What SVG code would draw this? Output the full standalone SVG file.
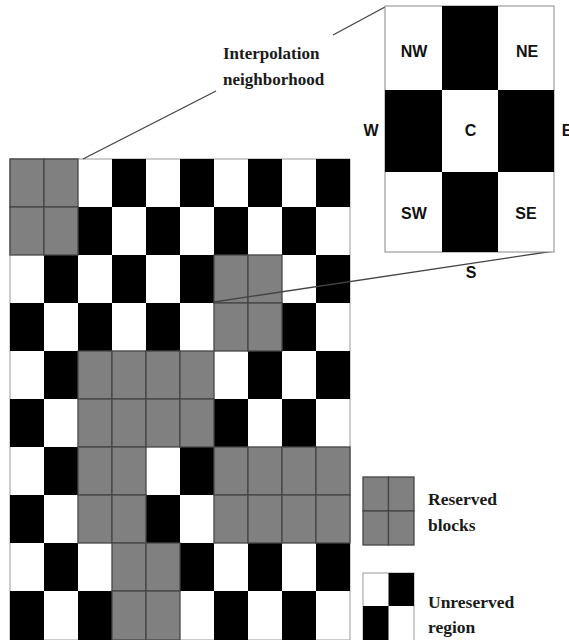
<svg xmlns="http://www.w3.org/2000/svg" width="569" height="640" viewBox="0 0 569 640">
<style>
.b{fill:#000}
.w{fill:#fff}
.g{fill:#808080;stroke:#464646;stroke-width:1.3}
.conn{stroke:#444;stroke-width:1.3;fill:none}
.lbl{font-family:"Liberation Sans",Arial,sans-serif;font-weight:bold;font-size:16px;fill:#111;text-anchor:middle}
.ser{font-family:"Liberation Serif","Times New Roman",serif;font-weight:bold;fill:#1a1a1a}
</style>
<rect width="569" height="640" fill="#fff"/>
<g id="grid">
<rect x="10" y="159" width="340" height="481" fill="#fff" stroke="#999" stroke-width="1"/>
<!-- row 0 -->
<rect class="b" x="112" y="159" width="34" height="48"/><rect class="b" x="180" y="159" width="34" height="48"/><rect class="b" x="248" y="159" width="34" height="48"/><rect class="b" x="316" y="159" width="34" height="48"/>
<!-- row 1 -->
<rect class="b" x="78" y="207" width="34" height="48"/><rect class="b" x="146" y="207" width="34" height="48"/><rect class="b" x="214" y="207" width="34" height="48"/><rect class="b" x="282" y="207" width="34" height="48"/>
<!-- row 2 -->
<rect class="b" x="44" y="255" width="34" height="48"/><rect class="b" x="112" y="255" width="34" height="48"/><rect class="b" x="180" y="255" width="34" height="48"/><rect class="b" x="316" y="255" width="34" height="48"/>
<!-- row 3 -->
<rect class="b" x="10" y="303" width="34" height="48"/><rect class="b" x="78" y="303" width="34" height="48"/><rect class="b" x="146" y="303" width="34" height="48"/><rect class="b" x="282" y="303" width="34" height="48"/>
<!-- row 4 -->
<rect class="b" x="44" y="351" width="34" height="48"/><rect class="b" x="248" y="351" width="34" height="48"/><rect class="b" x="316" y="351" width="34" height="48"/>
<!-- row 5 -->
<rect class="b" x="10" y="399" width="34" height="48"/><rect class="b" x="214" y="399" width="34" height="48"/><rect class="b" x="282" y="399" width="34" height="48"/>
<!-- row 6 -->
<rect class="b" x="44" y="447" width="34" height="48"/><rect class="b" x="180" y="447" width="34" height="48"/>
<!-- row 7 -->
<rect class="b" x="10" y="495" width="34" height="48"/><rect class="b" x="146" y="495" width="34" height="48"/>
<!-- row 8 -->
<rect class="b" x="44" y="543" width="34" height="48"/><rect class="b" x="180" y="543" width="34" height="48"/><rect class="b" x="248" y="543" width="34" height="48"/><rect class="b" x="316" y="543" width="34" height="48"/>
<!-- row 9 -->
<rect class="b" x="10" y="591" width="34" height="49"/><rect class="b" x="78" y="591" width="34" height="49"/><rect class="b" x="214" y="591" width="34" height="49"/><rect class="b" x="282" y="591" width="34" height="49"/>
</g>
<g id="reserved-blocks">
<rect class="g" x="10" y="159" width="34" height="48"/><rect class="g" x="44" y="159" width="34" height="48"/>
<rect class="g" x="10" y="207" width="34" height="48"/><rect class="g" x="44" y="207" width="34" height="48"/>
<rect class="g" x="214" y="255" width="34" height="48"/><rect class="g" x="248" y="255" width="34" height="48"/>
<rect class="g" x="214" y="303" width="34" height="48"/><rect class="g" x="248" y="303" width="34" height="48"/>
<rect class="g" x="78" y="351" width="34" height="48"/><rect class="g" x="112" y="351" width="34" height="48"/><rect class="g" x="146" y="351" width="34" height="48"/><rect class="g" x="180" y="351" width="34" height="48"/>
<rect class="g" x="78" y="399" width="34" height="48"/><rect class="g" x="112" y="399" width="34" height="48"/><rect class="g" x="146" y="399" width="34" height="48"/><rect class="g" x="180" y="399" width="34" height="48"/>
<rect class="g" x="78" y="447" width="34" height="48"/><rect class="g" x="112" y="447" width="34" height="48"/><rect class="g" x="214" y="447" width="34" height="48"/><rect class="g" x="248" y="447" width="34" height="48"/><rect class="g" x="282" y="447" width="34" height="48"/><rect class="g" x="316" y="447" width="34" height="48"/>
<rect class="g" x="78" y="495" width="34" height="48"/><rect class="g" x="112" y="495" width="34" height="48"/><rect class="g" x="214" y="495" width="34" height="48"/><rect class="g" x="248" y="495" width="34" height="48"/><rect class="g" x="282" y="495" width="34" height="48"/><rect class="g" x="316" y="495" width="34" height="48"/>
<rect class="g" x="112" y="543" width="34" height="48"/><rect class="g" x="146" y="543" width="34" height="48"/>
<rect class="g" x="112" y="591" width="34" height="49"/><rect class="g" x="146" y="591" width="34" height="49"/>
</g>
<g id="connectors">
<line class="conn" x1="83" y1="159" x2="216" y2="91"/>
<line class="conn" x1="333" y1="35" x2="385" y2="7"/>
<line class="conn" x1="214" y1="302" x2="554" y2="251"/>
</g>
<g id="interpolation-label">
<text class="ser" font-size="17" x="223" y="59">Interpolation</text>
<text class="ser" font-size="17" x="223" y="85">neighborhood</text>
</g>
<g id="inset">
<rect x="385" y="6" width="169" height="246" fill="#fff" stroke="#888" stroke-width="1"/>
<rect class="b" x="442" y="6" width="56" height="84"/>
<rect class="b" x="385" y="90" width="57" height="82"/>
<rect class="b" x="498" y="90" width="56" height="82"/>
<rect class="b" x="442" y="172" width="56" height="80"/>
<text class="lbl" x="414" y="57">NW</text>
<text class="lbl" x="527" y="57">NE</text>
<text class="lbl" x="470.5" y="136">C</text>
<text class="lbl" x="414" y="219">SW</text>
<text class="lbl" x="526" y="219">SE</text>
<text class="lbl" x="371" y="136">W</text>
<text class="lbl" x="567" y="136">E</text>
<text class="lbl" x="471" y="278">S</text>
</g>
<g id="legend-reserved">
<rect class="g" x="363" y="477" width="25.5" height="34"/><rect class="g" x="388.5" y="477" width="25.5" height="34"/>
<rect class="g" x="363" y="511" width="25.5" height="34"/><rect class="g" x="388.5" y="511" width="25.5" height="34"/>
<text class="ser" font-size="17.5" x="428" y="505">Reserved</text>
<text class="ser" font-size="17.5" x="428" y="531">blocks</text>
</g>
<g id="legend-unreserved">
<rect x="363" y="573" width="51" height="68" fill="#fff" stroke="#999" stroke-width="1"/>
<rect class="b" x="388.5" y="573" width="25.5" height="33"/>
<rect class="b" x="363" y="606" width="25.5" height="35"/>
<text class="ser" font-size="17.5" x="428" y="608">Unreserved</text>
<text class="ser" font-size="17.5" x="428" y="633">region</text>
</g>
</svg>
